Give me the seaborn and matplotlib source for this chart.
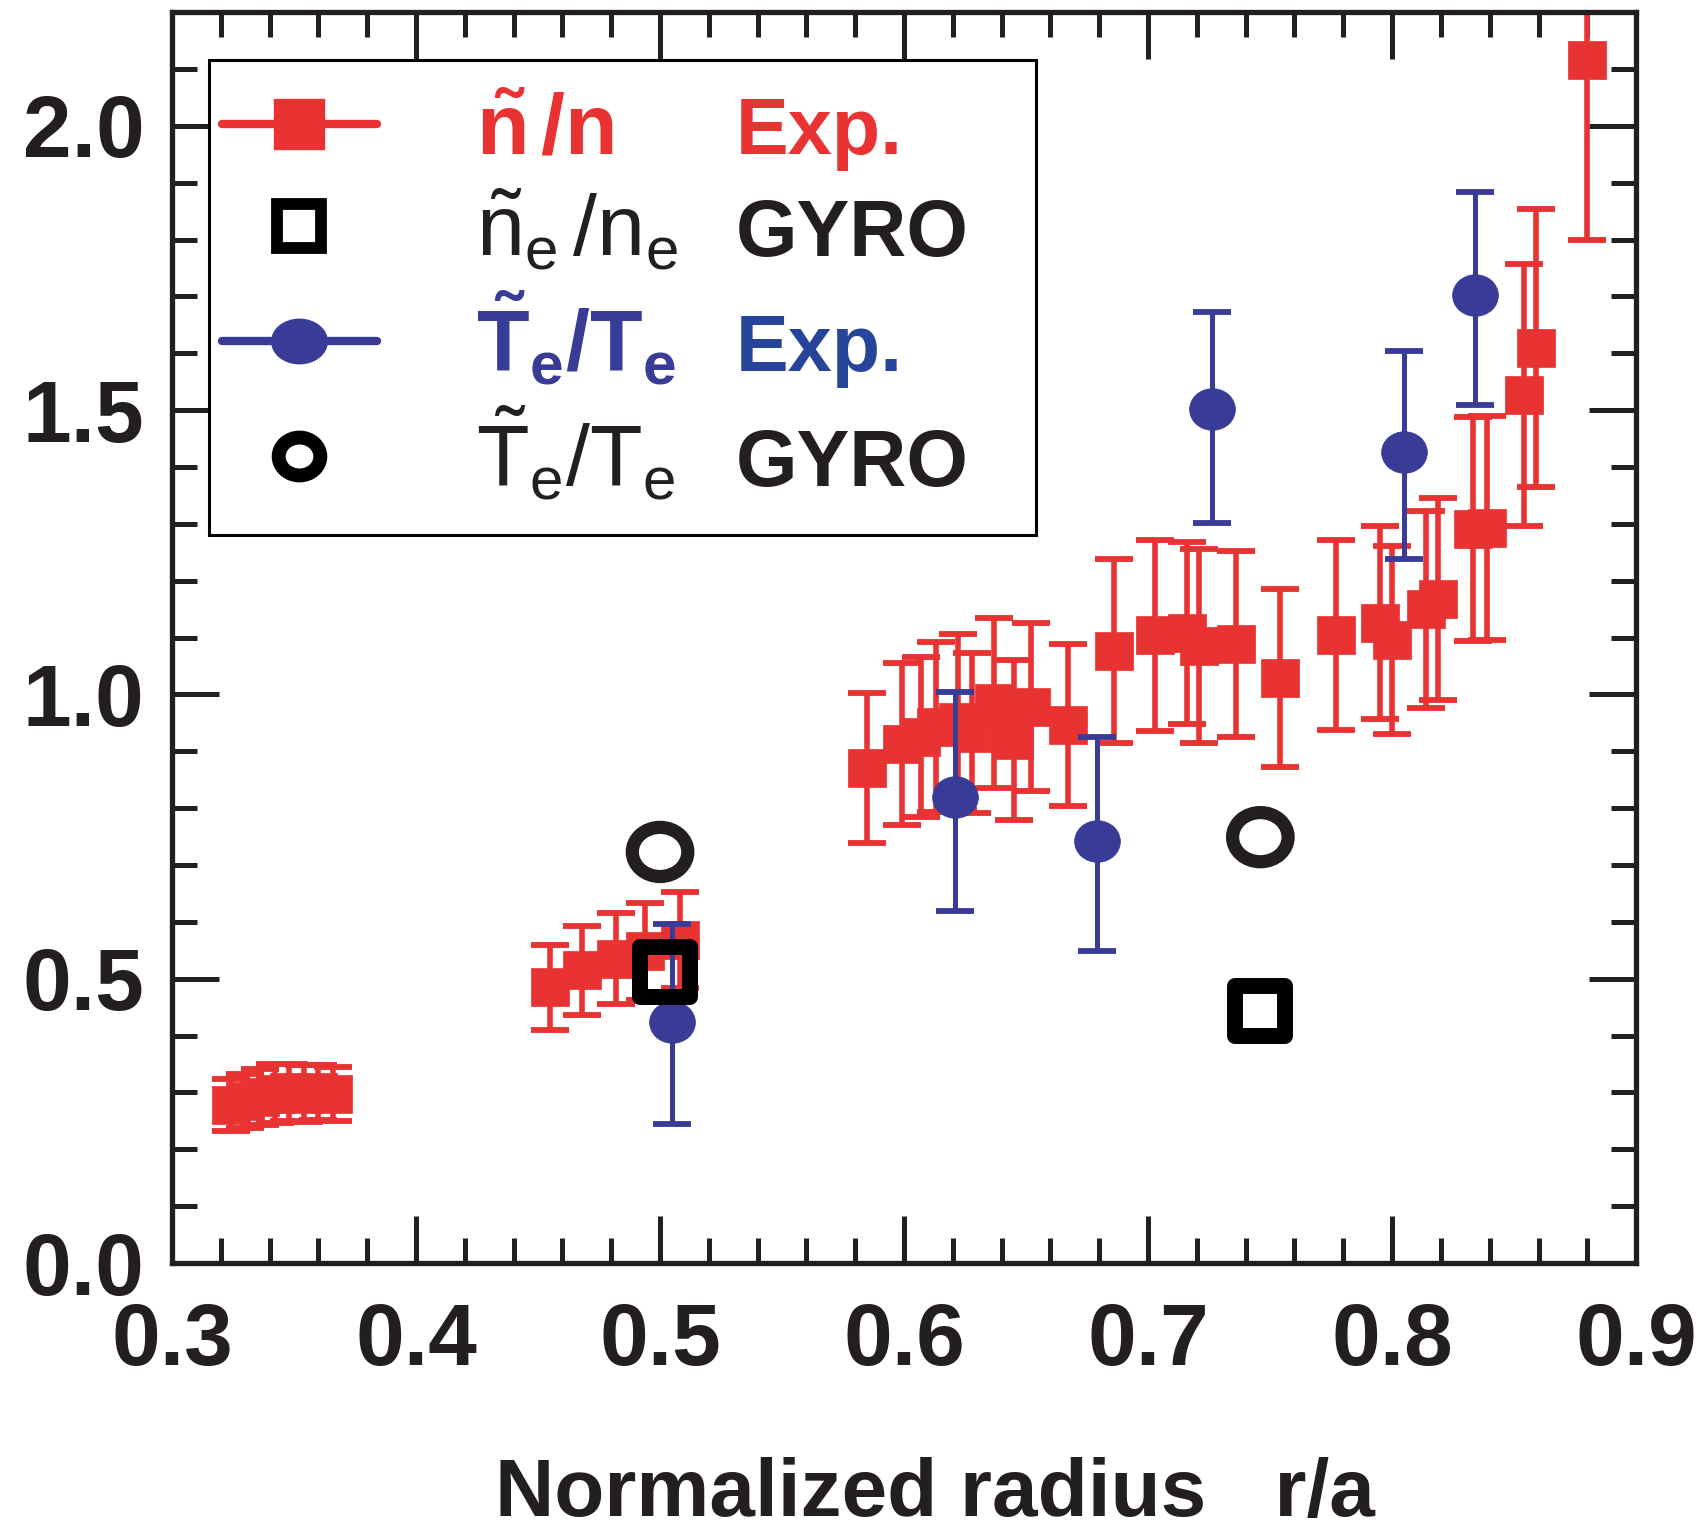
import numpy as np
import pandas as pd
import matplotlib
matplotlib.use("Agg")
import matplotlib.pyplot as plt
import seaborn as sns
from matplotlib.lines import Line2D
from matplotlib.markers import MarkerStyle
from matplotlib.path import Path
from matplotlib.transforms import Affine2D
from matplotlib.ticker import MultipleLocator, FormatStrFormatter
from matplotlib.patches import Rectangle
from matplotlib import font_manager

# ---------------- data ----------------
n_exp_r = [0.324, 0.330, 0.336, 0.342, 0.348, 0.354, 0.360, 0.366,
           0.455, 0.468, 0.482, 0.494, 0.508,
           0.585, 0.599, 0.607, 0.613, 0.622, 0.628, 0.637, 0.645, 0.652, 0.667,
           0.686, 0.703, 0.716, 0.721, 0.736, 0.754, 0.777, 0.795, 0.800, 0.814,
           0.819, 0.833, 0.839, 0.854, 0.859, 0.880]
n_exp_val = [0.278, 0.285, 0.292, 0.298, 0.300, 0.298, 0.300, 0.297,
             0.485, 0.515, 0.535, 0.548, 0.568,
             0.871, 0.913, 0.925, 0.943, 0.951, 0.932, 0.985, 0.920, 0.978, 0.946,
             1.076, 1.104, 1.108, 1.085, 1.089, 1.029, 1.105, 1.126, 1.096, 1.150,
             1.168, 1.291, 1.293, 1.527, 1.609, 2.116]
n_exp_err = [0.046, 0.048, 0.050, 0.052, 0.050, 0.050, 0.048, 0.048,
             0.075, 0.078, 0.080, 0.085, 0.085,
             0.132, 0.142, 0.140, 0.150, 0.155, 0.140, 0.150, 0.140, 0.148, 0.143,
             0.162, 0.168, 0.160, 0.170, 0.163, 0.157, 0.167, 0.170, 0.165, 0.173,
             0.177, 0.197, 0.197, 0.230, 0.245, 0.316]

te_exp_r = [0.505, 0.621, 0.679, 0.726, 0.805, 0.834]
te_exp_val = [0.424, 0.820, 0.743, 1.502, 1.427, 1.703]
te_exp_err_lo = [0.179, 0.200, 0.195, 0.201, 0.189, 0.194]
te_exp_err_hi = [0.172, 0.184, 0.182, 0.170, 0.177, 0.181]

ne_gyro_r = [0.502, 0.746]
ne_gyro_val = [0.512, 0.443]
te_gyro_r = [0.500, 0.746]
te_gyro_val = [0.723, 0.749]

x_ticks = [0.3, 0.4, 0.5, 0.6, 0.7, 0.8, 0.9]
y_ticks = [0.0, 0.5, 1.0, 1.5, 2.0]
x_label = "Normalized radius   r/a"

# ---------------- style ----------------
RED = "#E93232"
BLUE = "#383C96"
BLUE_TXT = "#27449B"
BLK = "#231F20"

sns.set_theme(style="ticks")
plt.rcParams["font.family"] = ["Liberation Sans", "DejaVu Sans"]
plt.rcParams["mathtext.fontset"] = "custom"
plt.rcParams["mathtext.rm"] = "Liberation Sans"
plt.rcParams["mathtext.bf"] = "Liberation Sans:bold"
plt.rcParams["mathtext.it"] = "Liberation Sans:italic"
plt.rcParams["mathtext.sf"] = "Liberation Sans"

names = {f.name for f in font_manager.fontManager.ttflist}
narrow = "Liberation Sans Narrow" in names
xfam = "Liberation Sans Narrow" if narrow else "Liberation Sans"
xsize = 68 if narrow else 59


def ellipse(a):
    return MarkerStyle(Path.unit_circle().transformed(Affine2D().scale(a, 1.0)))


fig = plt.figure(figsize=(17.05, 15.33), dpi=100)
ax = fig.add_axes([0.1009, 0.1761, 0.8587, 0.8160])

df_n = pd.DataFrame({"r": n_exp_r, "v": n_exp_val, "e": n_exp_err})
df_t = pd.DataFrame({"r": te_exp_r, "v": te_exp_val,
                     "lo": te_exp_err_lo, "hi": te_exp_err_hi})

# red: density fluctuation experiment
ax.errorbar(df_n["r"], df_n["v"], yerr=df_n["e"], fmt="none", ecolor=RED,
            elinewidth=4, capsize=14, capthick=4.2, zorder=2)
sns.scatterplot(data=df_n, x="r", y="v", marker="s", s=27 ** 2, color=RED,
                edgecolor=RED, linewidth=0.5, ax=ax, zorder=3, legend=False)

# blue: Te fluctuation experiment
ax.errorbar(df_t["r"], df_t["v"], yerr=[df_t["lo"], df_t["hi"]], fmt="none",
            ecolor=BLUE, elinewidth=3.6, capsize=14, capthick=4.2, zorder=4)
sns.scatterplot(data=df_t, x="r", y="v", marker=ellipse(1.1), s=33 ** 2,
                color=BLUE, edgecolor=BLUE, linewidth=0.5, ax=ax, zorder=5,
                legend=False)

# GYRO
ax.scatter(ne_gyro_r, ne_gyro_val, marker="s", s=36 ** 2, facecolors="none",
           edgecolors="black", linewidths=11.5, zorder=6)
ax.scatter(te_gyro_r, te_gyro_val, marker=ellipse(1.13), s=40 ** 2,
           facecolors="none", edgecolors=BLK, linewidths=9.5, zorder=6)

# axes
ax.set_xlim(0.3, 0.9)
ax.set_ylim(0.0, 2.2)
ax.set_xticks(x_ticks)
ax.set_yticks(y_ticks)
ax.xaxis.set_minor_locator(MultipleLocator(0.02))
ax.yaxis.set_minor_locator(MultipleLocator(0.1))
ax.xaxis.set_major_formatter(FormatStrFormatter("%.1f"))
ax.yaxis.set_major_formatter(FormatStrFormatter("%.1f"))
ax.tick_params(which="both", direction="in", top=True, right=True,
               width=3.6, color=BLK)
ax.tick_params(which="major", length=34)
ax.tick_params(which="minor", length=18)
ax.tick_params(axis="x", which="major", pad=28, labelsize=63, labelcolor=BLK)
ax.tick_params(axis="y", which="major", pad=20, labelsize=63, labelcolor=BLK)
for lab in ax.get_xticklabels() + ax.get_yticklabels():
    lab.set_fontweight("bold")
for sp in ax.spines.values():
    sp.set_linewidth(3.8)
    sp.set_color(BLK)
    sp.set_visible(True)

ax.set_xlabel(x_label, fontsize=xsize, fontweight="bold", family=xfam, color=BLK)
ax.xaxis.set_label_coords(0.521, -0.155)
ax.xaxis.label.set_va("top")
ax.set_ylabel("")

# legend frame
ax.add_patch(Rectangle((0.0253, 0.582), 0.565, 0.3796, transform=ax.transAxes,
                       facecolor="white", edgecolor="black", lw=2.2, zorder=7))

h1 = Line2D([], [], color=RED, lw=6, marker="s", ms=36, mec=RED, mfc=RED)
h2 = Line2D([], [], ls="none", marker="s", ms=31, mew=8.5, mfc="none", mec="black")
h3 = Line2D([], [], color=BLUE, lw=6, marker=ellipse(1.25), ms=40, mec=BLUE, mfc=BLUE)
h4 = Line2D([], [], ls="none", marker=ellipse(1.1), ms=30, mew=10, mfc="none", mec="black")
labels = [r"$\mathbf{\tilde{n}\,/n}$", r"$\mathrm{\tilde{n}_e\,/n_e}$",
          r"$\mathbf{\tilde{T}_e/T_e}$", r"$\mathrm{\tilde{T}_e/T_e}$"]
leg = ax.legend(handles=[h1, h2, h3, h4], labels=labels, loc="upper left",
                bbox_to_anchor=(0.0340, 0.936), borderaxespad=0, borderpad=0,
                frameon=False, fontsize=62, handlelength=1.8, handletextpad=1.15,
                labelspacing=0.19)
leg.set_zorder(8)
txt_colors = [RED, BLK, BLUE, BLK]
for t, c in zip(leg.get_texts(), txt_colors):
    t.set_color(c)

fig.canvas.draw()
side = [("Exp.", RED), ("GYRO", BLK), ("Exp.", BLUE_TXT), ("GYRO", BLK)]
x_disp = ax.transAxes.transform((0.385, 0))[0]
for t, (s, c) in zip(leg.get_texts(), side):
    ydisp = t.get_transform().transform(t.get_position())[1]
    xf, yf = fig.transFigure.inverted().transform((x_disp, ydisp))
    fig.text(xf, yf, s, color=c, fontsize=57, fontweight="bold", va="baseline",
             ha="left", zorder=9)

fig.savefig("out.png", dpi=100)
